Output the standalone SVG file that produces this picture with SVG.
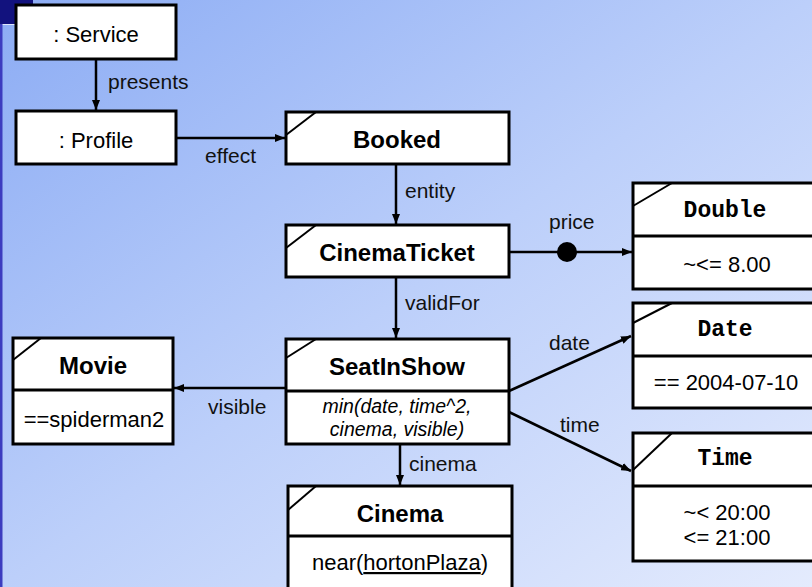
<svg xmlns="http://www.w3.org/2000/svg" width="812" height="587" viewBox="0 0 812 587">
<defs>
<linearGradient id="bg" x1="0" y1="0" x2="1" y2="1">
<stop offset="0" stop-color="#8cacf4"/>
<stop offset="0.5" stop-color="#bccffa"/>
<stop offset="1" stop-color="#e4ebfd"/>
</linearGradient>
<marker id="ah" viewBox="0 0 10 8" refX="10" refY="4" markerWidth="10" markerHeight="8" markerUnits="userSpaceOnUse" orient="auto">
<path d="M0,0 L10,4 L0,8 Z" fill="#000"/>
</marker>
<style>
.box{fill:#fff;stroke:#000;stroke-width:3}
.div{stroke:#000;stroke-width:3}
.sl{stroke:#000;stroke-width:2;fill:none}
.con{stroke:#000;stroke-width:2.5;fill:none;marker-end:url(#ah)}
.lbl{font-family:"Liberation Sans",Arial,sans-serif;font-size:21px;fill:#111}
.t{font-family:"Liberation Sans",Arial,sans-serif;font-size:22px;fill:#000;text-anchor:middle}
.b{font-family:"Liberation Sans",Arial,sans-serif;font-size:24px;font-weight:bold;fill:#000;text-anchor:middle}
.m{font-family:"Liberation Mono","Courier New",monospace;font-size:23px;font-weight:bold;fill:#000;text-anchor:middle}
.i{font-family:"Liberation Sans",Arial,sans-serif;font-size:19.5px;font-style:italic;fill:#000;text-anchor:middle}
</style>
</defs>
<rect x="0" y="0" width="812" height="587" fill="url(#bg)"/>
<rect x="0" y="0" width="33" height="24" fill="#12127e"/>
<line x1="0" y1="24.5" x2="33" y2="24.5" stroke="#dfe6fb" stroke-width="1"/>
<rect x="0" y="24" width="2.5" height="563" fill="#3c3cbf"/>

<g id="connectors">
<line class="con" x1="96" y1="59" x2="96" y2="110"/>
<text class="lbl" x="108" y="89">presents</text>
<line class="con" x1="176" y1="138" x2="285" y2="138"/>
<text class="lbl" x="205" y="163">effect</text>
<line class="con" x1="396" y1="164" x2="396" y2="224"/>
<text class="lbl" x="405" y="198">entity</text>
<line class="con" x1="509" y1="252" x2="632" y2="252"/>
<circle cx="567" cy="252" r="10" fill="#000"/>
<text class="lbl" x="549" y="229">price</text>
<line class="con" x1="396" y1="277" x2="396" y2="338"/>
<text class="lbl" x="405" y="310">validFor</text>
<line class="con" x1="286" y1="388" x2="174" y2="388"/>
<text class="lbl" x="208" y="414">visible</text>
<line class="con" x1="509" y1="391" x2="631" y2="336"/>
<text class="lbl" x="549" y="350">date</text>
<line class="con" x1="509" y1="412" x2="631" y2="471"/>
<text class="lbl" x="560" y="432">time</text>
<line class="con" x1="400" y1="444" x2="400" y2="485"/>
<text class="lbl" x="409" y="471">cinema</text>
</g>

<g id="service">
<rect class="box" x="16" y="5" width="160" height="54"/>
<text class="t" x="96" y="42">: Service</text>
</g>
<g id="profile">
<rect class="box" x="16" y="111" width="160" height="53"/>
<text class="t" x="96" y="148">: Profile</text>
</g>
<g id="booked">
<rect class="box" x="286" y="112" width="223" height="52"/>
<line class="sl" x1="286" y1="135" x2="316" y2="112"/>
<text class="b" x="397" y="148">Booked</text>
</g>
<g id="cinematicket">
<rect class="box" x="286" y="225" width="223" height="52"/>
<line class="sl" x1="286" y1="248" x2="316" y2="225"/>
<text class="b" x="397" y="261">CinemaTicket</text>
</g>
<g id="double">
<rect class="box" x="633" y="183" width="185" height="106"/>
<line class="div" x1="633" y1="236" x2="818" y2="236"/>
<line class="sl" x1="633" y1="206" x2="672" y2="183"/>
<text class="m" x="725" y="217">Double</text>
<text class="t" x="727" y="272">~&lt;= 8.00</text>
</g>
<g id="date">
<rect class="box" x="633" y="303" width="185" height="105"/>
<line class="div" x1="633" y1="356" x2="818" y2="356"/>
<line class="sl" x1="633" y1="323" x2="672" y2="303"/>
<text class="m" x="725" y="336">Date</text>
<text class="t" x="726" y="390">== 2004-07-10</text>
</g>
<g id="time">
<rect class="box" x="633" y="433" width="185" height="128"/>
<line class="div" x1="633" y1="486" x2="818" y2="486"/>
<line class="sl" x1="633" y1="470" x2="672" y2="433"/>
<text class="m" x="725" y="465">Time</text>
<text class="t" x="727" y="520">~&lt; 20:00</text>
<text class="t" x="727" y="545">&lt;= 21:00</text>
</g>
<g id="movie">
<rect class="box" x="13" y="338" width="160" height="106"/>
<line class="div" x1="13" y1="390" x2="173" y2="390"/>
<line class="sl" x1="13" y1="360" x2="41" y2="338"/>
<text class="b" x="93" y="374">Movie</text>
<text class="t" x="94" y="427">==spiderman2</text>
</g>
<g id="seatinshow">
<rect class="box" x="286" y="339" width="223" height="105"/>
<line class="div" x1="286" y1="391" x2="509" y2="391"/>
<line class="sl" x1="286" y1="358" x2="316" y2="339"/>
<text class="b" x="397" y="375">SeatInShow</text>
<text class="i" x="397" y="413">min(date, time^2,</text>
<text class="i" x="397" y="436">cinema, visible)</text>
</g>
<g id="cinema">
<rect class="box" x="288" y="486" width="224" height="106"/>
<line class="div" x1="288" y1="536" x2="512" y2="536"/>
<line class="sl" x1="288" y1="510" x2="316" y2="486"/>
<text class="b" x="400" y="522">Cinema</text>
<text class="t" x="400" y="570">near(<tspan text-decoration="underline">hortonPlaza</tspan>)</text>
</g>
</svg>
